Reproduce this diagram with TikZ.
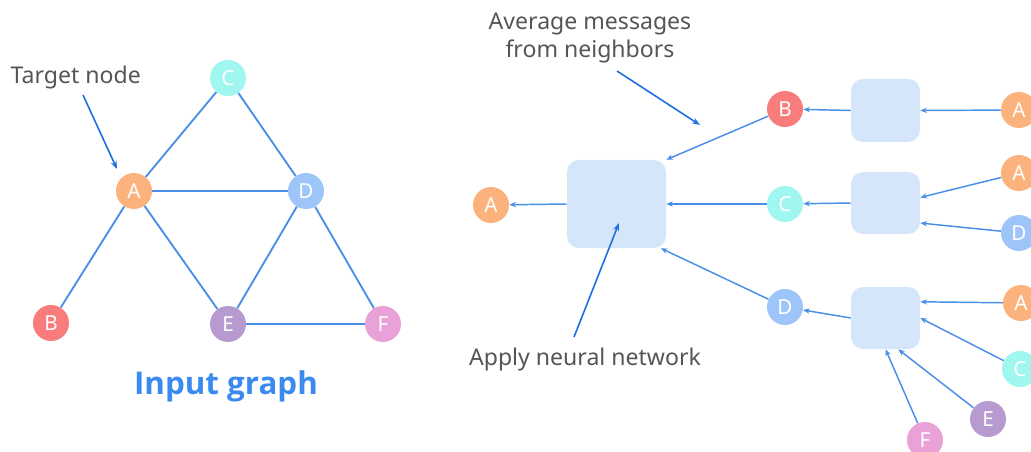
\documentclass[tikz,border=0pt]{standalone}
\usepackage{fontspec}
\setmainfont{Noto Sans}
\newfontfamily\titlefont{Open Sans}
\usetikzlibrary{arrows.meta}

\definecolor{nodeA}{HTML}{FBB27C}
\definecolor{nodeB}{HTML}{F97C7C}
\definecolor{nodeC}{HTML}{A0F7F0}
\definecolor{nodeD}{HTML}{9EC5FA}
\definecolor{nodeE}{HTML}{B79ACF}
\definecolor{nodeF}{HTML}{E9A2D8}
\definecolor{edgeblue}{HTML}{4A8FE7}
\definecolor{pointblue}{HTML}{1E6FE0}
\definecolor{boxblue}{HTML}{D5E5FA}
\definecolor{textgray}{HTML}{555555}
\definecolor{titleblue}{HTML}{3A8AF0}

\tikzset{
  vertex/.style={circle, minimum size=27pt, inner sep=0pt, text=white,
    font=\fontsize{15.5}{15.5}\selectfont},
  edge/.style={draw=edgeblue, line width=1.4pt},
  msg/.style={draw=edgeblue, line width=1.1pt, -{Stealth[length=5pt,width=4pt]}},
  pointer/.style={draw=pointblue, line width=1.2pt, -{Stealth[length=6pt,width=4.5pt]}},
  nnbox/.style={fill=boxblue, rounded corners=9pt, inner sep=0pt},
  note/.style={text=textgray, align=center, font=\fontsize{17.3}{20.5}\selectfont},
}

\begin{document}
\begin{tikzpicture}[x=0.75pt,y=-0.75pt]

\newcommand\MidX{785}
\newcommand\BoxX{885.5}
\newcommand\InX{1019}

  \useasboundingbox (0,0) rectangle (1031,452);
  \clip (0,0) rectangle (1031,452);

  %% input graph
  \node[vertex, fill=nodeC] (gc) at (228,78)  {C};
  \node[vertex, fill=nodeA] (ga) at (134,191) {A};
  \node[vertex, fill=nodeD] (gd) at (306,191) {D};
  \node[vertex, fill=nodeB] (gb) at (51,323)  {B};
  \node[vertex, fill=nodeE] (ge) at (228,324) {E};
  \node[vertex, fill=nodeF] (gf) at (383,324) {F};

  \draw[edge] (ga) -- (gc);
  \draw[edge] (gc) -- (gd);
  \draw[edge] (ga) -- (gd);
  \draw[edge] (ga) -- (gb);
  \draw[edge] (ga) -- (ge);
  \draw[edge] (gd) -- (ge);
  \draw[edge] (gd) -- (gf);
  \draw[edge] (ge) -- (gf);

  \node[note, anchor=west] (target) at (6,78) {Target node};
  \coordinate (ts) at (83,95);
  \coordinate (tt) at (117,169);
  \draw[pointer] (ts) -- (tt);

  \node[text=titleblue, font=\titlefont\fontsize{23.5}{26}\selectfont\bfseries] (title)
    at (226,386) {Input graph};

  %% aggregation boxes
  \node[nnbox, minimum width=74.25pt, minimum height=66pt] (big) at (616.5,204) {};
  \node[nnbox, minimum width=51.75pt, minimum height=47.25pt] (box1) at (\BoxX,110.5) {};
  \node[nnbox, minimum width=51.75pt, minimum height=46.5pt] (box2) at (\BoxX,203) {};
  \node[nnbox, minimum width=51.75pt, minimum height=46.5pt] (box3) at (\BoxX,318) {};

  %% layer 0 / layer 1 / output
  \node[vertex, fill=nodeA] (aout) at (491,205) {A};
  \node[vertex, fill=nodeB] (b1) at (\MidX,109) {B};
  \node[vertex, fill=nodeC] (c1) at (\MidX,204) {C};
  \node[vertex, fill=nodeD] (d1) at (\MidX,307) {D};

  \node[vertex, fill=nodeA] (a2) at (\InX,110) {A};
  \node[vertex, fill=nodeA] (a3) at (\InX,173) {A};
  \node[vertex, fill=nodeD] (d3) at (\InX,233) {D};
  \node[vertex, fill=nodeA] (a4) at (1021,303) {A};
  \node[vertex, fill=nodeC] (c4) at (1020,369) {C};
  \node[vertex, fill=nodeE] (e4) at (988,419) {E};
  \node[vertex, fill=nodeF] (f4) at (925,440) {F};

  %% messages
  \draw[msg] (big.west) -- (aout);
  \draw[msg] (b1) -- (big.north east);
  \draw[msg] (c1) -- (big.east);
  \draw[msg] (d1) -- (big.-45);

  \draw[msg] (box1.west) -- (b1);
  \draw[msg] (box2.west) -- (c1);
  \draw[msg] (box3.west) -- (d1);

  \draw[msg] (a2) -- (box1.east);
  \draw[msg] (a3) -- (box2.9);
  \draw[msg] (d3) -- (box2.-30);
  \draw[msg] (a4) -- (box3.25);
  \draw[msg] (c4) -- (box3.east);
  \draw[msg] (e4) -- (box3.-68);
  \draw[msg] (f4) -- (box3.south);

  %% notes
  \node[note] (avg) at (590,38) {Average messages\\from neighbors};
  \coordinate (as) at (617,71);
  \coordinate (at) at (700,125);
  \draw[pointer] (as) -- (at);

  \node[note] (apply) at (585,360) {Apply neural network};
  \coordinate (ps) at (574,337);
  \coordinate (pt) at (619,223);
  \draw[pointer] (ps) -- (pt);

\end{tikzpicture}
\end{document}
